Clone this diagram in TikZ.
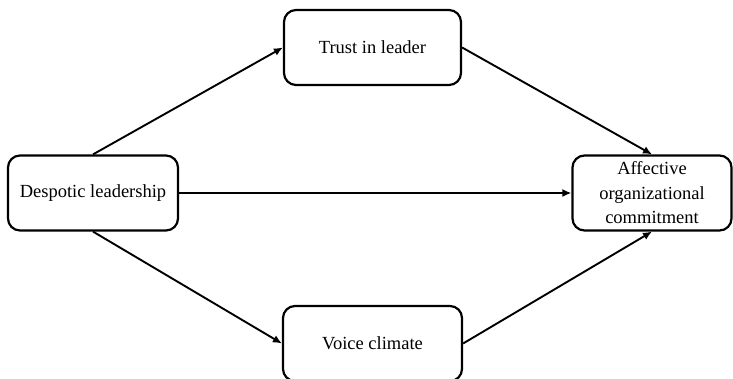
\documentclass[tikz,border=0pt]{standalone}
\usepackage{fontspec}
\setmainfont{Liberation Serif}
\usetikzlibrary{arrows.meta}

\newcommand{\dobozMagassag}{75}
\newcommand{\sarokKerekites}{12pt}
\newcommand{\kozepY}{185}

\tikzset{
	doboz/.style={draw, line width=2.2pt, rounded corners=\sarokKerekites, minimum height=\dobozMagassag pt, inner sep=0pt, align=center, font=\fontsize{18.5}{24.5}\selectfont},
	nyil/.style={line width=1.9pt, -{Latex[length=9pt,width=8pt]}}
}

\begin{document}
\begin{tikzpicture}[x=1pt,y=1pt]
	\useasboundingbox (0,0) rectangle (733,378);
	% dobozok
	\node[doboz, minimum width=170pt] (despotic) at (93,\kozepY) {Despotic leadership};
	\node[doboz, minimum width=177pt] (trust) at (372.5,330.5) {Trust in leader};
	\node[doboz, minimum width=179pt] (voice) at (372.5,34.5) {Voice climate};
	\node[doboz, minimum width=159pt] (affective) at (652,\kozepY) {Affective\\organizational\\commitment};
	% nyilak
	\draw[nyil] (despotic.north)--(trust.west);
	\draw[nyil] (trust.east)--(affective.north);
	\draw[nyil] (despotic.east)--(affective.west);
	\draw[nyil] (despotic.south)--(voice.west);
	\draw[nyil] (voice.east)--(affective.south);
\end{tikzpicture}
\end{document}
